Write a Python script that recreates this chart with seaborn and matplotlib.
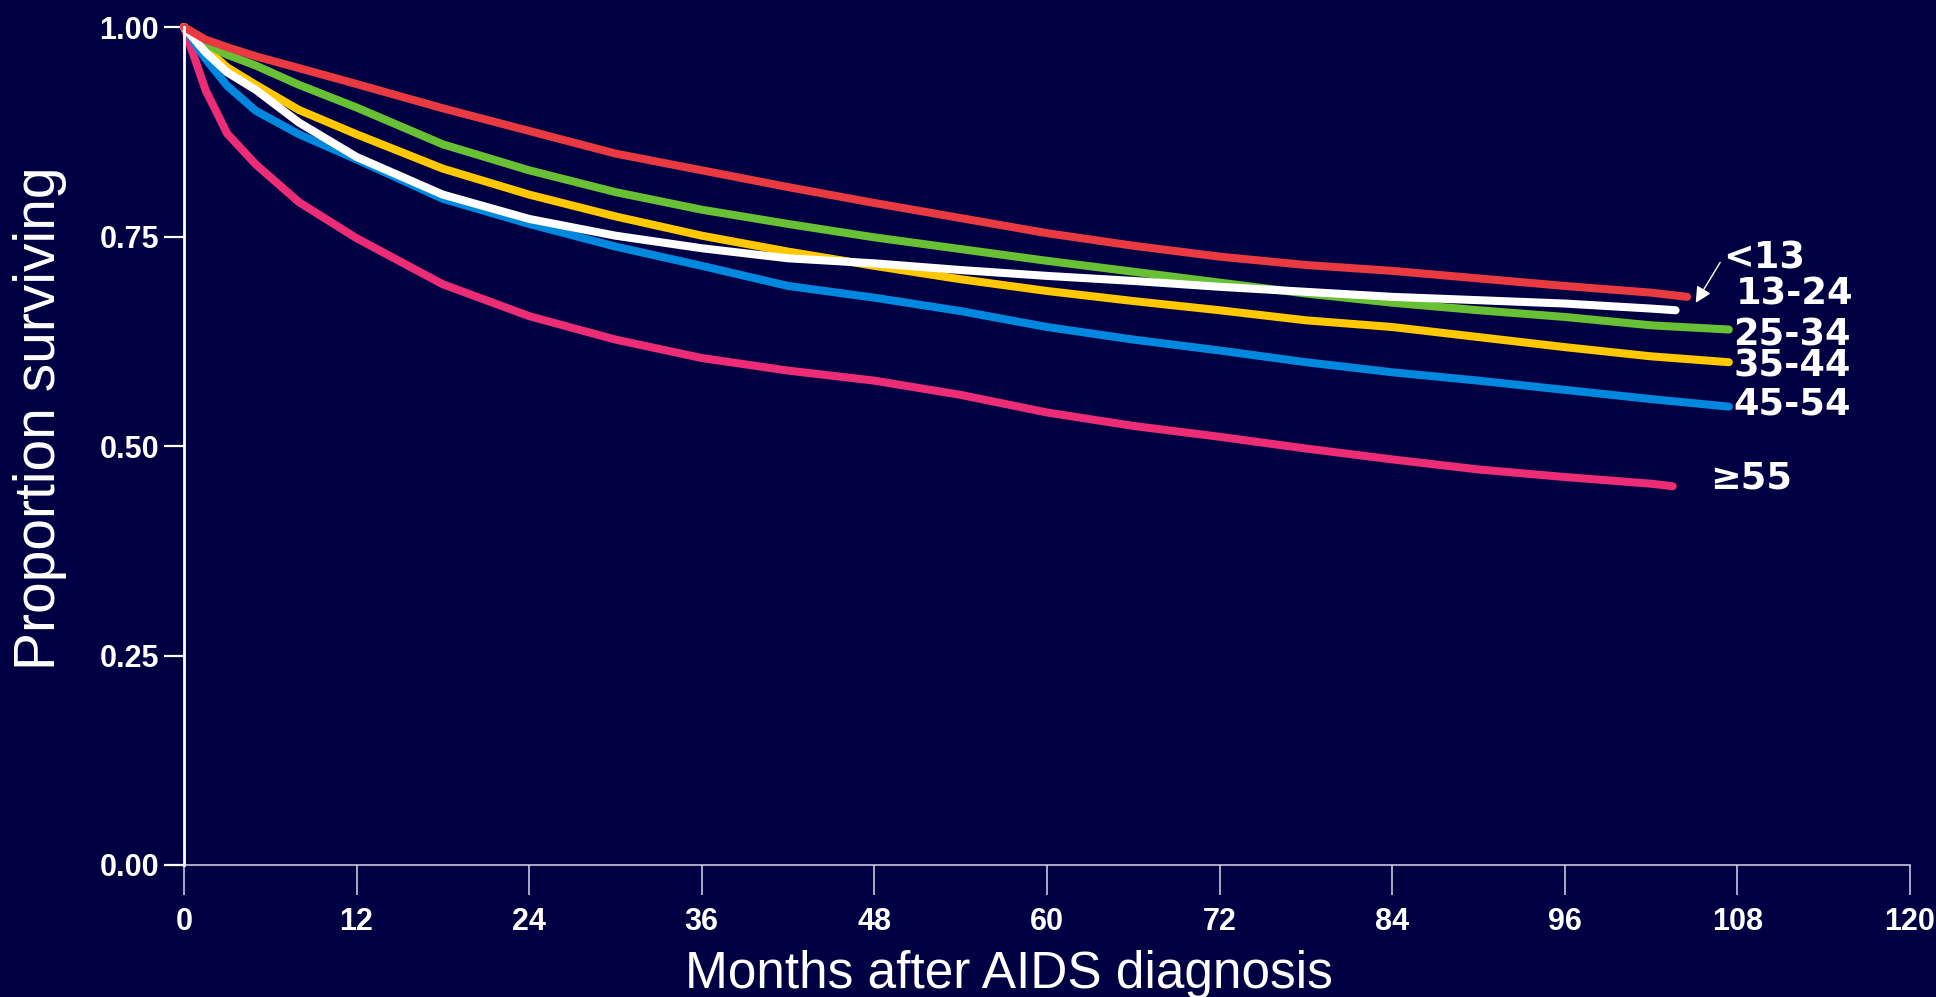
import numpy as np
import pandas as pd
import matplotlib
matplotlib.use("Agg")
import matplotlib.pyplot as plt
import seaborn as sns

# ---- data ----
months = [0, 1.5, 3, 5, 8, 12, 18, 24, 30, 36, 42, 48, 54, 60, 66, 72, 78, 84, 90, 96, 102]
groups = ["<13", "13-24", "25-34", "35-44", "45-54", "\u226555"]
end_months = [104.5, 103.7, 107.4, 107.4, 107.4, 103.5]

surv_lt13 = [1.0, 0.985, 0.976, 0.965, 0.951, 0.932, 0.903, 0.876, 0.849, 0.829, 0.809,
             0.790, 0.772, 0.754, 0.739, 0.726, 0.716, 0.709, 0.700, 0.691, 0.683, 0.678]
surv_13_24 = [1.0, 0.970, 0.946, 0.925, 0.886, 0.845, 0.800, 0.771, 0.751, 0.736, 0.724,
              0.718, 0.710, 0.703, 0.697, 0.690, 0.684, 0.678, 0.674, 0.670, 0.664, 0.662]
surv_25_34 = [1.0, 0.980, 0.967, 0.954, 0.931, 0.904, 0.860, 0.829, 0.803, 0.782, 0.765,
              0.749, 0.735, 0.721, 0.708, 0.695, 0.682, 0.671, 0.662, 0.654, 0.644, 0.639]
surv_35_44 = [1.0, 0.975, 0.952, 0.931, 0.901, 0.872, 0.831, 0.800, 0.774, 0.751, 0.732,
              0.715, 0.699, 0.685, 0.673, 0.662, 0.650, 0.642, 0.630, 0.618, 0.607, 0.600]
surv_45_54 = [1.0, 0.962, 0.930, 0.900, 0.872, 0.842, 0.795, 0.765, 0.738, 0.715, 0.691,
              0.677, 0.661, 0.642, 0.627, 0.614, 0.600, 0.588, 0.578, 0.567, 0.556, 0.547]
surv_ge55 = [1.0, 0.925, 0.873, 0.836, 0.791, 0.748, 0.693, 0.655, 0.627, 0.605, 0.590,
             0.578, 0.561, 0.540, 0.524, 0.511, 0.497, 0.484, 0.472, 0.463, 0.455, 0.452]

series = [surv_lt13, surv_13_24, surv_25_34, surv_35_44, surv_45_54, surv_ge55]
colors = ["#E83A40", "#FFFFFF", "#68C034", "#FFC800", "#0088DE", "#EC2C74"]

x_ticks = [0, 12, 24, 36, 48, 60, 72, 84, 96, 108, 120]
y_ticks = [0.0, 0.25, 0.50, 0.75, 1.00]
y_tick_labels = ["0.00", "0.25", "0.50", "0.75", "1.00"]

rows = []
for g, em, vals in zip(groups, end_months, series):
    xs = months + [em]
    for m, v in zip(xs, vals):
        rows.append({"month": m, "surv": v, "group": g})
df = pd.DataFrame(rows)

BG = "#000042"
sns.set_theme(style="white")
plt.rcParams["font.family"] = ["Liberation Sans", "DejaVu Sans"]

fig = plt.figure(figsize=(19.36, 9.97), dpi=100, facecolor=BG)
ax = fig.add_axes([0.0950, 0.1324, 0.8916, 0.8405])
ax.set_facecolor(BG)

draw_order = ["\u226555", "45-54", "35-44", "25-34", "13-24", "<13"]
pal = dict(zip(groups, colors))
for g in draw_order:
    sub = df[df["group"] == g]
    sns.lineplot(data=sub, x="month", y="surv", color=pal[g], linewidth=5.8,
                 estimator=None, sort=True, ax=ax, legend=False, clip_on=False,
                 solid_joinstyle="miter")

ax.set_xlim(0, 120)
ax.set_ylim(0, 1)
tick_font = dict(family="Liberation Sans", fontsize=22, fontweight="bold", color="white")
ax.set_xticks(x_ticks)
ax.set_xticklabels([str(t) for t in x_ticks], **tick_font)
ax.set_yticks(y_ticks)
ax.set_yticklabels(y_tick_labels, **tick_font)
ax.tick_params(axis="y", direction="out", length=14.4, width=1.6, color="white", pad=3.6, left=True)
ax.tick_params(axis="x", direction="out", length=21.6, width=1.1, color="#d8d8e8", pad=9.0, bottom=True)
ax.set_xlabel("")
ax.set_ylabel("")
for s in ["top", "right"]:
    ax.spines[s].set_visible(False)
ax.spines["left"].set_color("white")
ax.spines["left"].set_linewidth(2.0)
ax.spines["bottom"].set_color("#d8d8e8")
ax.spines["bottom"].set_linewidth(1.1)
ax.grid(False)

# group labels at the right end of the curves
label_pos = {"<13": (107.0, 0.724), "13-24": (107.9, 0.681), "25-34": (107.7, 0.633),
             "35-44": (107.7, 0.595), "45-54": (107.7, 0.550), "\u226555": (106.1, 0.462)}
for g in groups:
    x, y = label_pos[g]
    ax.text(x, y, g, color="white", fontsize=26.5, fontweight="bold", ha="left", va="center",
            clip_on=False, family=["DejaVu Sans"])

ax.annotate("", xy=(105.0, 0.668), xytext=(106.9, 0.722),
            arrowprops=dict(arrowstyle="-|>", color="white", lw=1.0, mutation_scale=24),
            annotation_clip=False)

fig.text(0.0207, 0.581, "Proportion surviving", rotation=90, color="white",
         fontsize=41, ha="center", va="center")
fig.text(0.521, 0.009, "Months after AIDS diagnosis", color="white",
         fontsize=37, ha="center", va="baseline")

fig.savefig("out.png", dpi=100, facecolor=BG)
